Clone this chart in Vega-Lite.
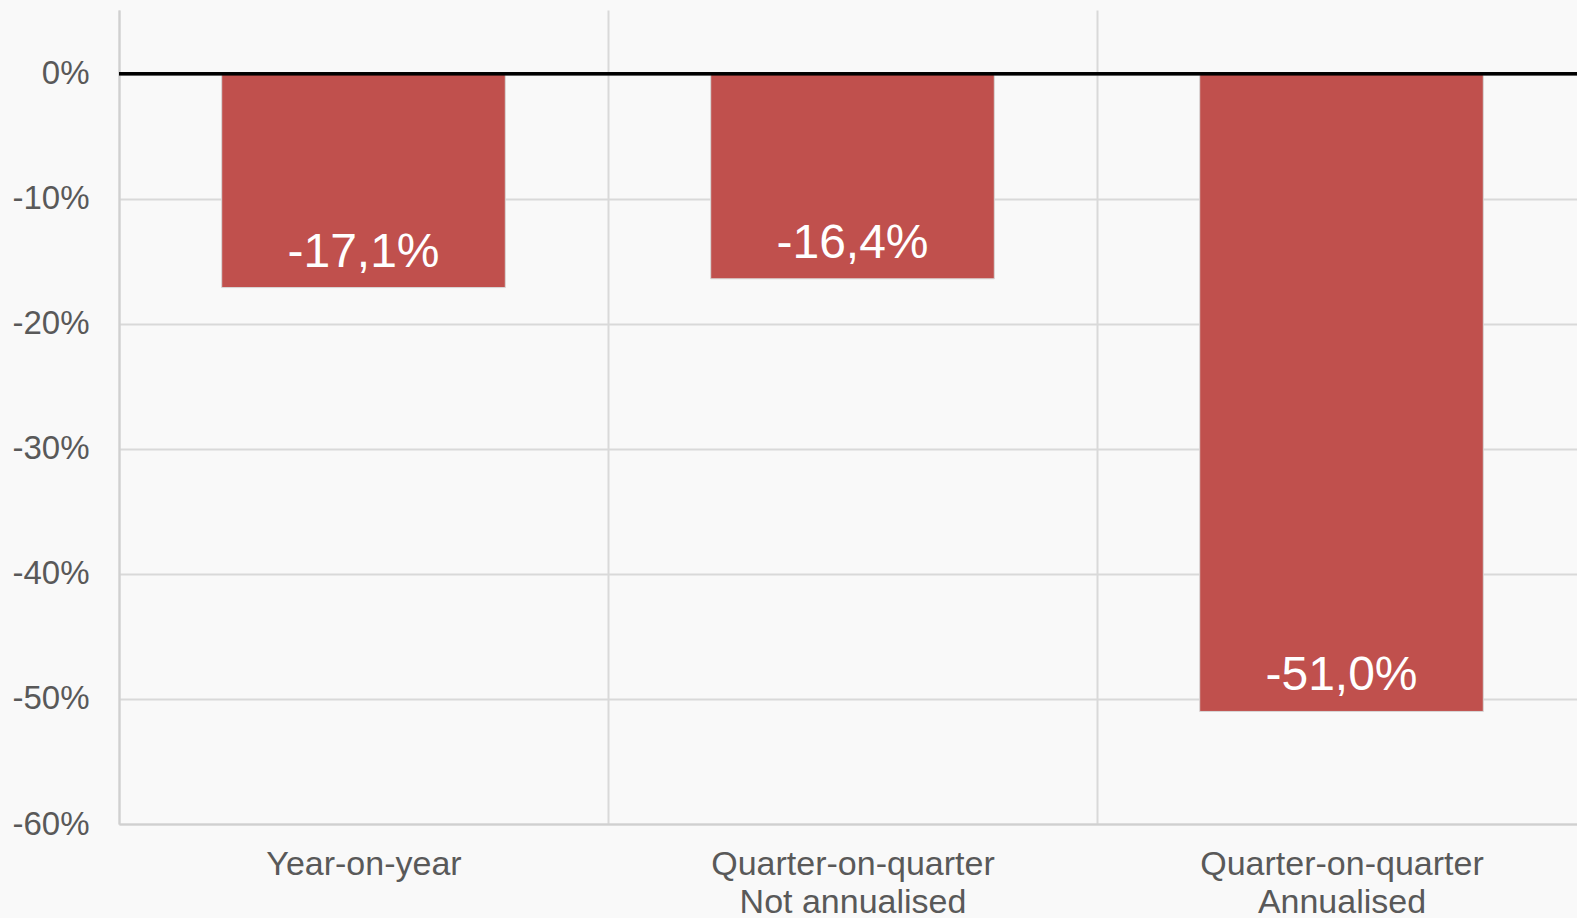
{
  "$schema": "https://vega.github.io/schema/vega-lite/v6.json",
  "autosize": "none",
  "width": 1458,
  "height": 814,
  "padding": {"left": 119, "top": 10, "right": 0, "bottom": 94},
  "background": "#f9f9f9",
  "config": {
    "view": {"stroke": null, "fill": "#f9f9f9"},
    "locale": {"number": {"decimal": ",", "thousands": ".", "grouping": [3], "currency": ["", " €"], "minus": "-"}},
    "font": "Liberation Sans"
  },
  "data": {
    "values": [
      {"category": "Year-on-year", "value": -0.171},
      {"category": "Quarter-on-quarter|Not annualised", "value": -0.164},
      {"category": "Quarter-on-quarter|Annualised", "value": -0.51}
    ]
  },
  "encoding": {
    "x": {
      "field": "category",
      "type": "nominal",
      "sort": null,
      "scale": {"paddingInner": 0, "paddingOuter": 0, "range": [0, 1467]},
      "axis": {
        "title": null,
        "labelAngle": 0,
        "labelExpr": "split(datum.label, '|')",
        "labelFontSize": 34,
        "labelColor": "#595959",
        "labelPadding": 23,
        "labelLineHeight": 38,
        "labelLimit": 0,
        "ticks": false,
        "domainColor": "#d0d0d0",
        "domainWidth": 2,
        "grid": true,
        "tickBand": "extent",
        "gridColor": "#d9d9d9",
        "gridWidth": 2
      }
    },
    "y": {
      "field": "value",
      "type": "quantitative",
      "scale": {"domain": [-0.6, 0.051], "nice": false},
      "axis": {
        "title": null,
        "format": ".0%",
        "values": [0, -0.1, -0.2, -0.3, -0.4, -0.5, -0.6],
        "labelFontSize": 33,
        "labelColor": "#595959",
        "labelPadding": 30,
        "ticks": false,
        "domainColor": "#d0d0d0",
        "domainWidth": 2,
        "gridColor": "#d9d9d9",
        "gridWidth": 2
      }
    }
  },
  "layer": [
    {
      "mark": {"type": "bar", "color": "#c0504d", "stroke": "#d8d8d8", "strokeWidth": 1, "width": {"band": 0.58}}
    },
    {
      "mark": {"type": "text", "color": "#ffffff", "fontSize": 48, "baseline": "alphabetic", "dy": -21},
      "encoding": {
        "text": {"field": "value", "type": "quantitative", "format": ".1%"}
      }
    },
    {
      "mark": {"type": "rule", "color": "#000000", "strokeWidth": 3},
      "encoding": {
        "x": {"value": 0},
        "x2": {"value": 1467},
        "y": {"datum": 0}
      }
    }
  ]
}
